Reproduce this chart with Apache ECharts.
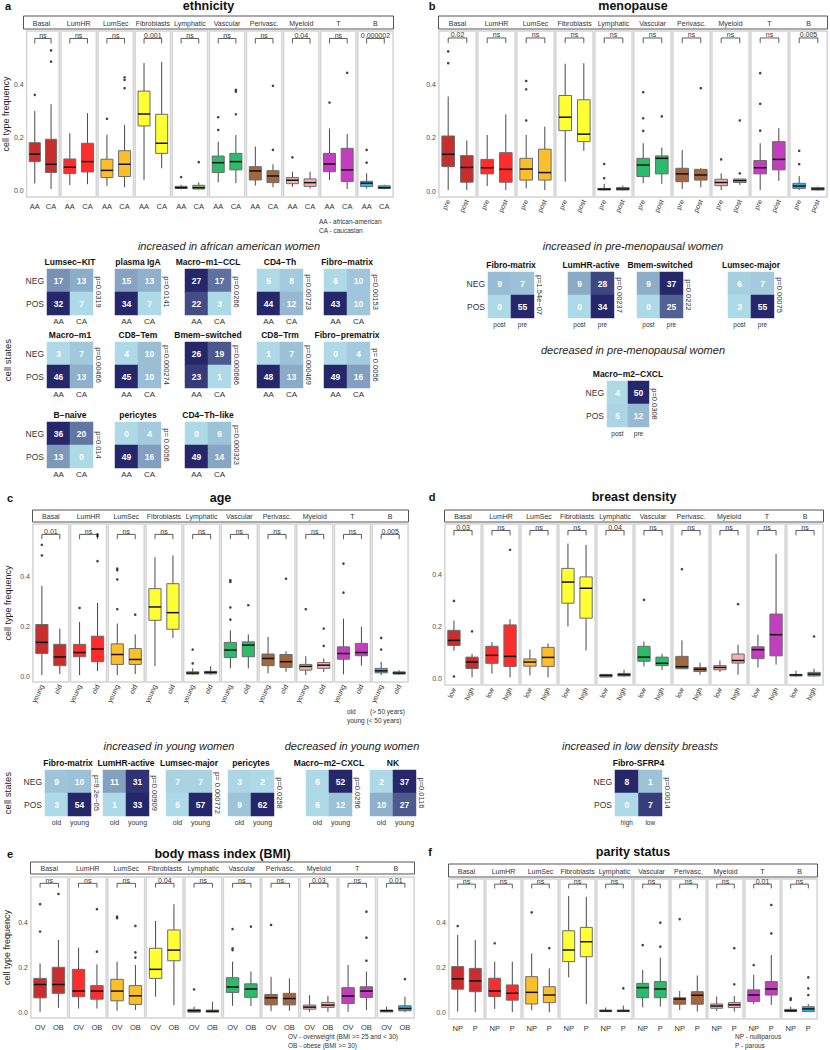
<!DOCTYPE html>
<html><head><meta charset="utf-8">
<script src="https://cdn.jsdelivr.net/npm/echarts@6/dist/echarts.min.js"></script>
<style>html,body{margin:0;padding:0;background:#fff}#c{width:830px;height:1050px}</style>
</head><body><div id="c"></div>
<script>
const FONT = '"Liberation Sans", Arial, Helvetica, sans-serif';

// ---------------- DATA ----------------
const cellTypes = ['Basal','LumHR','LumSec','Fibroblasts','Lymphatic','Vascular','Perivasc.','Myeloid','T','B'];

// box stats: [lower whisker, q1, median, q3, upper whisker] per cell type
// (a) ethnicity
const ethnicityGroups = ['AA','CA'];
const ethnicityAA = [[0.027,0.109,0.137,0.180,0.300],[0.021,0.064,0.088,0.119,0.216],[0.018,0.049,0.076,0.118,0.210],[0.040,0.243,0.288,0.374,0.480],[0.005,0.008,0.011,0.016,0.022],[0.031,0.068,0.105,0.130,0.184],[0.019,0.040,0.074,0.090,0.166],[0.014,0.026,0.039,0.049,0.071],[0.040,0.071,0.100,0.140,0.234],[0.008,0.015,0.028,0.035,0.065]];
const ethnicityCA = [[0.006,0.068,0.099,0.193,0.325],[0.024,0.070,0.109,0.178,0.291],[0.013,0.053,0.099,0.150,0.247],[0.084,0.140,0.178,0.287,0.484],[0.005,0.006,0.011,0.020,0.031],[0.028,0.078,0.109,0.140,0.209],[0.013,0.030,0.055,0.075,0.099],[0.008,0.016,0.030,0.044,0.071],[0.006,0.034,0.078,0.159,0.213],[0.005,0.008,0.011,0.018,0.022]];
const ethnicityAAOut = [[0.36],[],[0.27],[],[0.051],[0.228,0.276],[],[0.125],[0.331],[0.105,0.153]];
const ethnicityCAOut = [[0.485,0.527],[],[0.385,0.416,0.426],[],[0.107],[0.287,0.372,0.379],[0.153,0.394],[],[0.443],[]];
const ethnicityP = ['ns','ns','ns','0.001','ns','ns','ns','0.04','ns','0.000002'];

// (b) menopause
const menoGroups = ['pre','post'];
const menoPre = [[0.006,0.093,0.139,0.207,0.354],[0.021,0.066,0.089,0.120,0.211],[0.012,0.043,0.084,0.124,0.211],[0.037,0.227,0.277,0.358,0.476],[0.004,0.006,0.009,0.012,0.029],[0.031,0.056,0.099,0.124,0.180],[0.010,0.037,0.066,0.087,0.155],[0.006,0.022,0.034,0.046,0.068],[0.006,0.066,0.089,0.116,0.180],[0.006,0.012,0.021,0.031,0.058]];
const menoPost = [[0.006,0.035,0.090,0.134,0.190],[0.006,0.035,0.083,0.145,0.288],[0.006,0.043,0.071,0.158,0.242],[0.152,0.186,0.214,0.342,0.478],[0.005,0.006,0.010,0.015,0.022],[0.029,0.066,0.124,0.133,0.164],[0.016,0.043,0.062,0.083,0.087],[0.025,0.034,0.041,0.047,0.047],[0.040,0.081,0.120,0.186,0.236],[0.004,0.006,0.010,0.015,0.019]];
const menoPreOut = [[0.478,0.522],[],[0.265,0.381,0.412],[],[0.05,0.103],[0.226,0.273,0.37],[],[0.12],[0.227,0.327,0.441],[0.102,0.152]];
const menoPostOut = [[],[],[],[],[],[0.28],[0.385],[0.068,0.265],[],[]];
const menoP = ['0.02','ns','ns','ns','ns','ns','ns','ns','ns','0.005'];

// (c) age
const ageGroups = ['young','old'];
const ageYoung = [[0.004,0.091,0.136,0.208,0.364],[0.004,0.078,0.095,0.128,0.219],[0.004,0.047,0.087,0.130,0.212],[0.040,0.225,0.279,0.353,0.480],[0.005,0.008,0.012,0.017,0.031],[0.031,0.075,0.105,0.136,0.185],[0.011,0.042,0.071,0.089,0.158],[0.004,0.024,0.039,0.047,0.080],[0.007,0.068,0.091,0.118,0.232],[0.004,0.013,0.021,0.031,0.058]];
const ageOld = [[0.008,0.042,0.077,0.128,0.192],[0.020,0.058,0.109,0.161,0.295],[0.008,0.047,0.067,0.111,0.168],[0.154,0.189,0.256,0.373,0.487],[0.006,0.009,0.015,0.019,0.040],[0.031,0.078,0.125,0.138,0.168],[0.017,0.035,0.058,0.087,0.100],[0.017,0.031,0.044,0.055,0.071],[0.042,0.082,0.095,0.132,0.199],[0.005,0.008,0.012,0.017,0.024]];
const ageYoungOut = [[0.487,0.53],[0.275],[0.27,0.39,0.427,0.434],[],[0.051,0.107],[0.228,0.277,0.38,0.387],[],[0.27],[0.337,0.454],[0.107,0.154]];
const ageOldOut = [[],[0.464,0.565,0.572],[0.248],[],[],[0.286],[0.393],[0.122,0.192],[],[]];
const ageP = ['0.01','ns','ns','ns','ns','ns','ns','ns','ns','0.005'];

// (d) breast density
const densGroups = ['low','high'];
const densLow = [[0.106,0.126,0.146,0.185,0.223],[0.017,0.057,0.088,0.123,0.139],[0.010,0.046,0.062,0.074,0.111],[0.200,0.290,0.372,0.425,0.521],[0.003,0.004,0.010,0.014,0.016],[0.045,0.065,0.081,0.123,0.142],[0.035,0.036,0.044,0.084,0.146],[0.023,0.032,0.041,0.048,0.068],[0.041,0.075,0.110,0.121,0.168],[0.005,0.008,0.012,0.014,0.028]];
const densHigh = [[0.003,0.037,0.062,0.081,0.094],[0.003,0.045,0.084,0.206,0.228],[0.003,0.045,0.080,0.119,0.134],[0.107,0.232,0.348,0.392,0.516],[0.005,0.008,0.013,0.018,0.032],[0.032,0.048,0.057,0.081,0.094],[0.013,0.025,0.034,0.041,0.059],[0.013,0.058,0.068,0.093,0.129],[0.052,0.086,0.168,0.248,0.481],[0.005,0.008,0.015,0.022,0.036]];
const densLowOut = [[0.006,0.299],[],[],[],[],[0.303],[0.422],[],[],[]];
const densHighOut = [[0.181],[0.497],[],[],[],[],[],[0.286],[],[0.161]];
const densP = ['0.03','ns','ns','ns','0.04','ns','ns','ns','ns','ns'];

// (e) BMI
const bmiGroups = ['OV','OB'];
const bmiOV = [[0.004,0.066,0.125,0.152,0.218],[0.019,0.071,0.096,0.192,0.288],[0.009,0.053,0.096,0.148,0.226],[0.071,0.152,0.192,0.285,0.406],[0.002,0.003,0.009,0.015,0.027],[0.031,0.090,0.114,0.155,0.226],[0.007,0.035,0.066,0.081,0.159],[0.004,0.016,0.025,0.034,0.078],[0.004,0.041,0.074,0.111,0.211],[0.002,0.004,0.009,0.012,0.027]];
const bmiOB = [[0.022,0.086,0.125,0.201,0.322],[0.019,0.060,0.096,0.120,0.214],[0.012,0.037,0.075,0.120,0.211],[0.034,0.230,0.277,0.366,0.480],[0.002,0.003,0.007,0.012,0.049],[0.030,0.068,0.105,0.128,0.182],[0.009,0.035,0.063,0.086,0.152],[0.004,0.024,0.034,0.046,0.075],[0.012,0.068,0.096,0.115,0.182],[0.002,0.009,0.019,0.031,0.071]];
const bmiOVOut = [[0.359,0.48],[],[0.418,0.425],[],[0.103],[0.277,0.285,0.37],[0.388],[],[],[]];
const bmiOBOut = [[0.525],[0.27,0.458],[0.244,0.267,0.384],[],[],[0.381],[],[],[0.23,0.332,0.447],[0.149]];
const bmiP = ['ns','ns','ns','0.04','ns','ns','ns','0.03','ns','0.01'];

// (f) parity
const parityGroups = ['NP','P'];
const parityNP = [[0.003,0.103,0.149,0.204,0.345],[0.015,0.070,0.095,0.152,0.226],[0.010,0.037,0.089,0.159,0.263],[0.156,0.226,0.278,0.364,0.519],[0.002,0.003,0.006,0.010,0.021],[0.022,0.065,0.110,0.129,0.189],[0.010,0.036,0.059,0.065,0.095],[0.006,0.018,0.028,0.037,0.070],[0.036,0.048,0.077,0.100,0.167],[0.002,0.003,0.007,0.013,0.025]];
const parityP = [[0.000,0.092,0.140,0.196,0.323],[0.000,0.054,0.085,0.122,0.226],[0.000,0.043,0.077,0.114,0.196],[0.036,0.248,0.315,0.379,0.516],[0.002,0.003,0.006,0.010,0.030],[0.025,0.065,0.104,0.137,0.244],[0.003,0.036,0.076,0.092,0.164],[0.003,0.021,0.033,0.043,0.073],[0.033,0.077,0.104,0.137,0.256],[0.002,0.003,0.015,0.025,0.036]];
const parityNPOut = [[0.385],[0.308],[0.446],[],[],[0.30],[0.416],[],[0.211],[0.055,0.062]];
const parityPOut = [[],[],[0.286],[],[0.107],[0.293,0.40],[],[0.125,0.286],[0.352,0.479],[0.077,0.107,0.156]];
const parityP_vals = ['ns','ns','ns','ns','ns','ns','ns','ns','0.01','ns'];

// contingency tiles: [col1, col2] for NEG and POS rows
const ethStates = ['Lumsec\u2212KIT','plasma IgA','Macro\u2212m1\u2212CCL','CD4\u2212Th','Fibro\u2212matrix','Macro\u2212m1','CD8\u2212Tem','Bmem\u2212switched','CD8\u2212Trm','Fibro\u2212prematrix','B\u2212naive','pericytes','CD4\u2212Th\u2212like'];
const ethNeg = [[17,13],[15,13],[27,17],[5,8],[6,10],[3,7],[4,10],[26,19],[1,7],[0,4],[36,20],[0,4],[0,6]];
const ethPos = [[32,7],[34,7],[22,3],[44,12],[43,10],[46,13],[45,10],[23,1],[48,13],[49,16],[13,0],[49,16],[49,14]];
const ethPv = ['p=0.0319','p=0.0141','p=0.0266','p=0.00723','p=0.00153','p=0.00466','p=0.000274','p=0.000686','p=0.000469','p= 0.0056','p=0.014','p= 0.0056','p=0.000323'];

const menoStates = ['Fibro-matrix','LumHR-active','Bmem-switched','Lumsec-major','Macro\u2212m2\u2212CXCL'];
const menoNeg = [[9,7],[9,28],[9,37],[6,7],[4,50]];
const menoPos = [[0,55],[0,34],[0,25],[3,55],[5,12]];
const menoPv = ['p=1.54e\u221207','p=0.00237','p=0.0222','p=0.00075','p=0.0308'];
const menoCols = ['post','pre'];

const ageStates = ['Fibro-matrix','LumHR-active','Lumsec-major','pericytes','Macro\u2212m2\u2212CXCL','NK'];
const ageNeg = [[9,10],[11,31],[7,7],[3,2],[6,52],[2,37]];
const agePos = [[3,54],[1,33],[5,57],[9,62],[6,12],[10,27]];
const agePv = ['p=9.2e\u221205','p=0.00909','p= 0.000772','p=0.0258','p=0.0296','p=0.0116'];
const ageCols = ['old','young'];

const densStates = ['Fibro-SFRP4'];
const densNeg = [[8,1]];
const densPos = [[0,7]];
const densPv = ['p=0.0014'];
const densCols = ['high','low'];

// ---------------- STYLE / LAYOUT ----------------
const cellColors = ['#c92e2e','#fe2d2d','#fbbf2c','#ffff33','#86b560','#2dbb6b','#a4663d','#f5b1ae','#c33dbf','#27b3e6'];

const grids = [], xAxes = [], yAxes = [], series = [], graphic = [];

function txt(x, y, text, o) {
  o = o || {};
  const el = {type:'text', x:x, y:y, silent:true, style:{
    text:text, fill:o.color || '#222', fontSize:o.size || 8, fontFamily:FONT,
    fontWeight:o.weight || 'normal', fontStyle:o.style || 'normal',
    align:o.align || 'center', verticalAlign:o.valign || 'middle',
    textAlign:o.align || 'center', textVerticalAlign:o.valign || 'middle'}};
  if (o.rot) el.rotation = o.rot;
  graphic.push(el);
}

function boxRender(color) {
  return function (params, api) {
    const x = api.value(0);
    const lo = api.coord([x, api.value(1)]);
    const q1 = api.coord([x, api.value(2)]);
    const md = api.coord([x, api.value(3)]);
    const q3 = api.coord([x, api.value(4)]);
    const hi = api.coord([x, api.value(5)]);
    const bw = api.size([1, 0])[0] * 0.68;
    const cx = md[0];
    return {type:'group', children:[
      {type:'line', shape:{x1:cx, y1:lo[1], x2:cx, y2:hi[1]}, style:{stroke:'#1a1a1a', lineWidth:0.8}},
      {type:'rect', shape:{x:cx - bw/2, y:q3[1], width:bw, height:Math.max(q1[1]-q3[1], 1.2)}, style:{fill:color, stroke:'#6b6b6b', lineWidth:1}},
      {type:'line', shape:{x1:cx - bw/2, y1:md[1], x2:cx + bw/2, y2:md[1]}, style:{stroke:'#111', lineWidth:1.5}}
    ]};
  };
}

function bracketRender(label) {
  return function (params, api) {
    const a = api.coord([0, 0.572]);
    const b = api.coord([1, 0.572]);
    const d = api.coord([0, 0.553]);
    return {type:'group', children:[
      {type:'polyline', shape:{points:[[a[0], d[1]], [a[0], a[1]], [b[0], a[1]], [b[0], d[1]]]}, style:{stroke:'#333', lineWidth:0.8, fill:'none'}},
      {type:'text', x:(a[0]+b[0])/2, y:a[1] + 0.5, style:{text:label, fill:'#333', fontSize:7, fontFamily:FONT,
        align:'center', verticalAlign:'bottom', textAlign:'center', textVerticalAlign:'bottom'}}
    ]};
  };
}

function addBoxPanel(L, groups, g1, g2, o1, o2, pv) {
  const w = (L.x1 - L.x0) / 10;
  graphic.push({type:'rect', silent:true, shape:{x:L.x0 + 0.5, y:L.sy, width:L.x1 - L.x0 - 1, height:L.sh}, style:{fill:'#fff', stroke:'#555', lineWidth:1}});
  txt((L.x0 + L.x1)/2, L.ty, L.title, {size:12.5, weight:'bold', color:'#111'});
  txt(L.lx, L.ty, L.letter, {size:11, weight:'bold', color:'#111'});
  for (let i = 0; i < 10; i++) {
    const left = L.x0 + i * w + 0.9;
    const gw = w - 1.8;
    grids.push({left:left, top:L.y0, width:gw, height:L.y1 - L.y0, show:true, borderColor:'#d4d4d4', borderWidth:1.5, backgroundColor:'#fff'});
    const gi = grids.length - 1;
    txt(left + gw/2, L.sy + L.sh/2 + 0.5, cellTypes[i], {size:7, color:'#333'});
    xAxes.push({gridIndex:gi, type:'category', data:groups, boundaryGap:true,
      axisLine:{show:false}, axisTick:{show:false}, splitLine:{show:false},
      axisLabel:{interval:0, rotate:L.rot, fontSize:L.rot ? 7 : 7.5, margin:L.rot ? 3 : 5, color:'#333', fontFamily:FONT}});
    const xi = xAxes.length - 1;
    yAxes.push({gridIndex:gi, type:'value', min:L.ymin, max:L.ymax,
      axisLine:{show:false}, axisTick:{show:false}, splitLine:{show:false},
      axisLabel:{show:i === 0, customValues:[0, 0.2, 0.4], formatter:function (v) { return v.toFixed(1); }, fontSize:7, margin:3, color:'#4d4d4d', fontFamily:FONT},
      name:(i === 0 && L.ytitle) ? 'cell type frequency' : '', nameLocation:'middle', nameGap:L.nameGap || 14,
      nameTextStyle:{fontSize:9, color:'#222', fontFamily:FONT}});
    const yi = yAxes.length - 1;
    series.push({type:'custom', xAxisIndex:xi, yAxisIndex:yi, silent:true,
      encode:{x:0, y:[1,2,3,4,5]},
      data:[[0].concat(g1[i]), [1].concat(g2[i])],
      renderItem:boxRender(cellColors[i])});
    const pts = o1[i].map(function (v) { return [0, v]; }).concat(o2[i].map(function (v) { return [1, v]; }));
    series.push({type:'scatter', xAxisIndex:xi, yAxisIndex:yi, silent:true, symbolSize:2.6,
      itemStyle:{color:'#151515'}, data:pts});
    series.push({type:'custom', xAxisIndex:xi, yAxisIndex:yi, silent:true, encode:{x:0, y:1},
      data:[[0, 0.572]], renderItem:bracketRender(pv[i])});
  }
}

function lerpColor(t) {
  const a = [174, 217, 231], b = [38, 39, 107];
  const c = a.map(function (v, k) { return Math.round(v + (b[k] - v) * t); });
  return 'rgb(' + c.join(',') + ')';
}

function addTile(name, cols, neg, pos, pv, pos0, size, showRows, colSize) {
  grids.push({left:pos0[0], top:pos0[1], width:size[0], height:size[1], show:false});
  const gi = grids.length - 1;
  xAxes.push({gridIndex:gi, type:'category', data:cols, axisLine:{show:false}, axisTick:{show:false},
    splitLine:{show:false}, splitArea:{show:false},
    axisLabel:{interval:0, fontSize:colSize, margin:2.5, color:'#333', fontFamily:FONT}});
  yAxes.push({gridIndex:gi, type:'category', data:['POS','NEG'], axisLine:{show:false}, axisTick:{show:false},
    splitLine:{show:false}, splitArea:{show:false},
    axisLabel:{show:showRows, interval:0, fontSize:8.5, margin:3, color:'#333', fontFamily:FONT}});
  const vals = neg.concat(pos);
  const mn = Math.min.apply(null, vals), mx = Math.max.apply(null, vals);
  const col = function (v) { return lerpColor(mx > mn ? (v - mn) / (mx - mn) : 0); };
  const data = [
    {value:[0, 1, neg[0]], itemStyle:{color:col(neg[0])}},
    {value:[1, 1, neg[1]], itemStyle:{color:col(neg[1])}},
    {value:[0, 0, pos[0]], itemStyle:{color:col(pos[0])}},
    {value:[1, 0, pos[1]], itemStyle:{color:col(pos[1])}}
  ];
  series.push({type:'heatmap', xAxisIndex:xAxes.length - 1, yAxisIndex:yAxes.length - 1, silent:true,
    data:data, itemStyle:{borderWidth:0},
    label:{show:true, color:'#fff', fontWeight:'bold', fontSize:8.5, fontFamily:FONT, formatter:function (p) { return String(p.value[2]); }},
    emphasis:{disabled:true}});
  txt(pos0[0] + size[0]/2, pos0[1] - 7, name, {size:8.5, weight:'bold', color:'#111'});
  txt(pos0[0] + size[0] + 5.5, pos0[1] + size[1]/2, pv, {size:7.5, color:'#333', rot:-Math.PI/2});
}

// ---------------- BUILD ----------------
addBoxPanel({x0:23, x1:394, y0:31, y1:197, ymin:-0.024, ymax:0.6, sy:16, sh:13, rot:0, ytitle:true, nameGap:13,
  title:'ethnicity', ty:6, letter:'a', lx:8}, ethnicityGroups, ethnicityAA, ethnicityCA, ethnicityAAOut, ethnicityCAOut, ethnicityP);
addBoxPanel({x0:438, x1:828, y0:31, y1:197, ymin:-0.02, ymax:0.598, sy:16, sh:13, rot:65, ytitle:false,
  title:'menopause', ty:6, letter:'b', lx:432}, menoGroups, menoPre, menoPost, menoPreOut, menoPostOut, menoP);
addBoxPanel({x0:32, x1:409, y0:524, y1:682, ymin:-0.024, ymax:0.614, sy:510, sh:12, rot:65, ytitle:true, nameGap:20,
  title:'age', ty:498, letter:'c', lx:10}, ageGroups, ageYoung, ageOld, ageYoungOut, ageOldOut, ageP);
addBoxPanel({x0:444, x1:824, y0:524, y1:685, ymin:-0.027, ymax:0.597, sy:510, sh:12, rot:65, ytitle:false,
  title:'breast density', ty:497, letter:'d', lx:432}, densGroups, densLow, densHigh, densLowOut, densHighOut, densP);
addBoxPanel({x0:30, x1:415, y0:877, y1:1018, ymin:-0.023, ymax:0.6, sy:862, sh:12, rot:0, ytitle:true, nameGap:19,
  title:'body mass index (BMI)', ty:854, letter:'e', lx:10}, bmiGroups, bmiOV, bmiOB, bmiOVOut, bmiOBOut, bmiP);
addBoxPanel({x0:448, x1:818, y0:879, y1:1019, ymin:-0.03, ymax:0.595, sy:864, sh:13, rot:0, ytitle:false,
  title:'parity status', ty:852, letter:'f', lx:430}, parityGroups, parityNP, parityP, parityNPOut, parityPOut, parityP_vals);

// heatmap tile layout
const ethTilePos = [[47,269],[115,269],[185,269],[257,269],[324,269],[47,342],[115,342],[185,342],[257,342],[324,342],[47,422],[115,422],[185,422]];
ethStates.forEach(function (s, i) {
  addTile(s, ethnicityGroups, ethNeg[i], ethPos[i], ethPv[i], ethTilePos[i], [46,46], i === 0 || i === 5 || i === 10, 8);
});
const menoTilePos = [[488,272],[568,272],[637,272],[728,272],[607,381]];
const menoTileW = [46,46,46,46,42];
menoStates.forEach(function (s, i) {
  addTile(s, menoCols, menoNeg[i], menoPos[i], menoPv[i], menoTilePos[i], [menoTileW[i],46], i === 0 || i === 4, 6.5);
});
const ageTilePos = [[45,770],[103,770],[166,770],[228,770],[306,770],[370,770]];
ageStates.forEach(function (s, i) {
  addTile(s, ageCols, ageNeg[i], agePos[i], agePv[i], ageTilePos[i], [46,46], i === 0, 7);
});
addTile(densStates[0], densCols, densNeg[0], densPos[0], densPv[0], [615,770], [47,46], true, 6.5);

// section titles & notes
txt(229, 246, 'increased in african american women', {size:11, style:'italic', color:'#222'});
txt(633, 246, 'increased in pre-menopausal women', {size:11, style:'italic', color:'#222'});
txt(633, 350, 'decreased in pre-menopausal women', {size:11, style:'italic', color:'#222'});
txt(169, 746, 'increased in young women', {size:11, style:'italic', color:'#222'});
txt(352, 746, 'decreased in young women', {size:11, style:'italic', color:'#222'});
txt(640, 746, 'increased in low density breasts', {size:11, style:'italic', color:'#222'});
txt(7, 360, 'cell states', {size:9.5, color:'#222', rot:Math.PI/2});
txt(7, 793, 'cell states', {size:9.5, color:'#222', rot:Math.PI/2});

txt(319, 221, 'AA - african-american', {size:6.5, align:'left', color:'#333'});
txt(319, 230, 'CA - caucasian', {size:6.5, align:'left', color:'#333'});
txt(347, 711, 'old', {size:6.5, align:'left', color:'#333'});
txt(370, 711, '(> 50 years)', {size:6.5, align:'left', color:'#333'});
txt(347, 720, 'young (< 50 years)', {size:6.5, align:'left', color:'#333'});
txt(288, 1036, 'OV - overweight (BMI >= 25 and < 30)', {size:6.5, align:'left', color:'#333'});
txt(288, 1045, 'OB - obese (BMI >= 30)', {size:6.5, align:'left', color:'#333'});
txt(735, 1036, 'NP - nulliparous', {size:6.5, align:'left', color:'#333'});
txt(735, 1045, 'P - parous', {size:6.5, align:'left', color:'#333'});

const chart = echarts.init(document.getElementById('c'), null, {renderer:'svg', width:830, height:1050});
chart.setOption({
  animation:false,
  backgroundColor:'#fff',
  textStyle:{fontFamily:FONT},
  grid:grids, xAxis:xAxes, yAxis:yAxes, series:series,
  graphic:{elements:graphic}
});
</script></body></html>
